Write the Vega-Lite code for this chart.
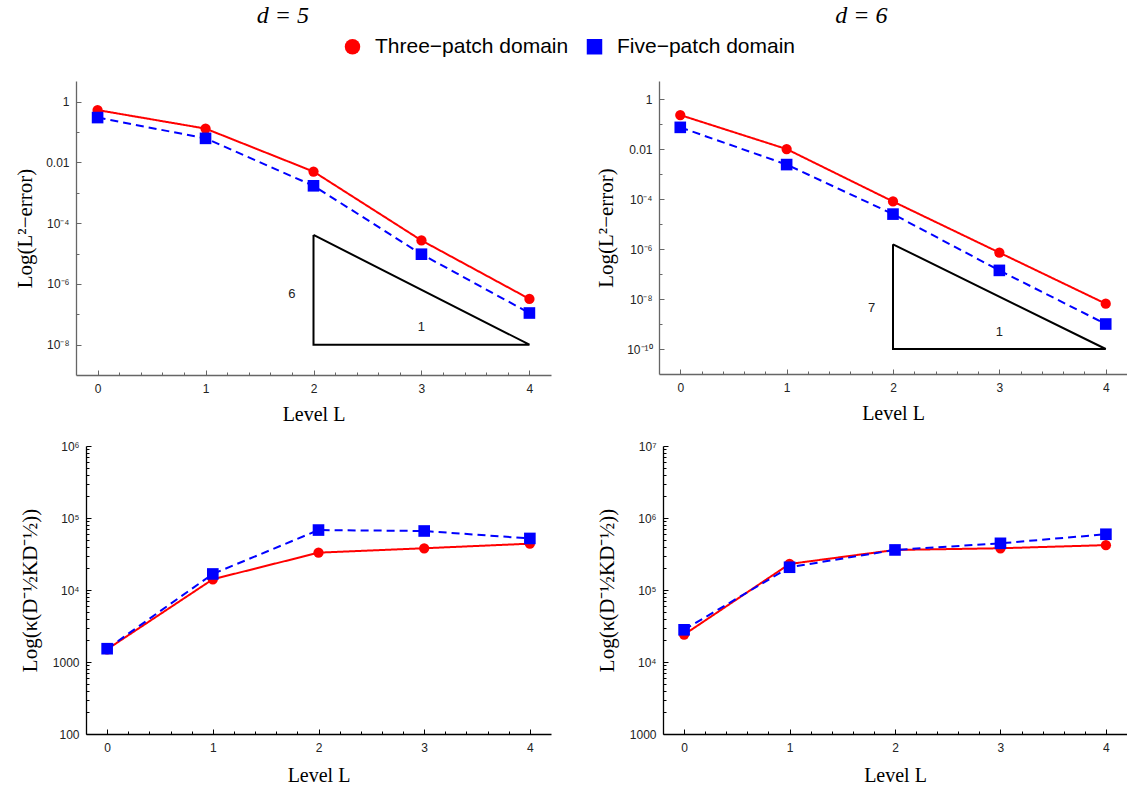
{
  "$schema": "https://vega.github.io/schema/vega-lite/v6.json",
  "background": "white",
  "padding": {"left": 14, "top": 4, "right": 0, "bottom": 4},
  "datasets": {
    "err": [
      {"panel": "A", "domain": "Three−patch domain", "L": 0, "value": 0.53},
      {"panel": "A", "domain": "Three−patch domain", "L": 1, "value": 0.13},
      {"panel": "A", "domain": "Three−patch domain", "L": 2, "value": 0.005},
      {"panel": "A", "domain": "Three−patch domain", "L": 3, "value": 2.7e-5},
      {"panel": "A", "domain": "Three−patch domain", "L": 4, "value": 3.2e-7},
      {"panel": "A", "domain": "Five−patch domain", "L": 0, "value": 0.30},
      {"panel": "A", "domain": "Five−patch domain", "L": 1, "value": 0.062},
      {"panel": "A", "domain": "Five−patch domain", "L": 2, "value": 0.0017},
      {"panel": "A", "domain": "Five−patch domain", "L": 3, "value": 9.5e-6},
      {"panel": "A", "domain": "Five−patch domain", "L": 4, "value": 1.1e-7},
      {"panel": "B", "domain": "Three−patch domain", "L": 0, "value": 0.23},
      {"panel": "B", "domain": "Three−patch domain", "L": 1, "value": 0.010},
      {"panel": "B", "domain": "Three−patch domain", "L": 2, "value": 8e-5},
      {"panel": "B", "domain": "Three−patch domain", "L": 3, "value": 7.2e-7},
      {"panel": "B", "domain": "Three−patch domain", "L": 4, "value": 6.5e-9},
      {"panel": "B", "domain": "Five−patch domain", "L": 0, "value": 0.074},
      {"panel": "B", "domain": "Five−patch domain", "L": 1, "value": 0.0024},
      {"panel": "B", "domain": "Five−patch domain", "L": 2, "value": 2.5e-5},
      {"panel": "B", "domain": "Five−patch domain", "L": 3, "value": 1.4e-7},
      {"panel": "B", "domain": "Five−patch domain", "L": 4, "value": 1.0e-9},
      {"panel": "C", "domain": "Three−patch domain", "L": 0, "value": 1500},
      {"panel": "C", "domain": "Three−patch domain", "L": 1, "value": 14100},
      {"panel": "C", "domain": "Three−patch domain", "L": 2, "value": 33000},
      {"panel": "C", "domain": "Three−patch domain", "L": 3, "value": 38000},
      {"panel": "C", "domain": "Three−patch domain", "L": 4, "value": 44000},
      {"panel": "C", "domain": "Five−patch domain", "L": 0, "value": 1530},
      {"panel": "C", "domain": "Five−patch domain", "L": 1, "value": 16700},
      {"panel": "C", "domain": "Five−patch domain", "L": 2, "value": 68000},
      {"panel": "C", "domain": "Five−patch domain", "L": 3, "value": 66000},
      {"panel": "C", "domain": "Five−patch domain", "L": 4, "value": 52000},
      {"panel": "D", "domain": "Three−patch domain", "L": 0, "value": 24000},
      {"panel": "D", "domain": "Three−patch domain", "L": 1, "value": 230000},
      {"panel": "D", "domain": "Three−patch domain", "L": 2, "value": 360000},
      {"panel": "D", "domain": "Three−patch domain", "L": 3, "value": 380000},
      {"panel": "D", "domain": "Three−patch domain", "L": 4, "value": 420000},
      {"panel": "D", "domain": "Five−patch domain", "L": 0, "value": 28000},
      {"panel": "D", "domain": "Five−patch domain", "L": 1, "value": 207000},
      {"panel": "D", "domain": "Five−patch domain", "L": 2, "value": 360000},
      {"panel": "D", "domain": "Five−patch domain", "L": 3, "value": 445000},
      {"panel": "D", "domain": "Five−patch domain", "L": 4, "value": 595000}
    ],
    "tri": [
      {"panel": "A", "i": 0, "L": 2, "value": 4.1e-5},
      {"panel": "A", "i": 1, "L": 2, "value": 1e-8},
      {"panel": "A", "i": 2, "L": 4, "value": 1e-8},
      {"panel": "A", "i": 3, "L": 2, "value": 4.1e-5},
      {"panel": "B", "i": 0, "L": 2, "value": 1.55e-6},
      {"panel": "B", "i": 1, "L": 2, "value": 1e-10},
      {"panel": "B", "i": 2, "L": 4, "value": 1e-10},
      {"panel": "B", "i": 3, "L": 2, "value": 1.55e-6}
    ],
    "lab": [
      {"panel": "A", "L": 1.8, "value": 4.7e-7, "text": "6"},
      {"panel": "A", "L": 3.0, "value": 3.8e-8, "text": "1"},
      {"panel": "B", "L": 1.8, "value": 4.4e-9, "text": "7"},
      {"panel": "B", "L": 3.0, "value": 4.7e-10, "text": "1"}
    ]
  },
  "config": {
    "view": {"stroke": null},
    "title": {"font": "Liberation Serif", "fontStyle": "italic", "fontWeight": "normal", "fontSize": 24, "color": "#000", "anchor": "middle", "frame": "bounds"},
    "axis": {
      "labelFont": "Liberation Sans", "labelFontSize": 12, "labelColor": "#222",
      "titleFont": "Liberation Serif", "titleFontSize": 20, "titleFontWeight": "normal", "titleColor": "#000",
      "grid": false, "tickSize": -5, "tickWidth": 1, "domainWidth": 1.3
    },
    "legend": {"title": null, "orient": "none", "legendX": 266, "legendY": -45, "direction": "horizontal", "labelFont": "Liberation Sans", "labelFontSize": 21, "labelColor": "#000", "symbolSize": 240, "symbolStrokeWidth": 0, "symbolOpacity": 1, "columnPadding": 15, "labelLimit": 400, "labelOffset": 12}
  },
  "resolve": {"scale": {"color": "shared", "shape": "shared", "strokeDash": "shared", "size": "shared"}},
  "spacing": 16,
  "vconcat": [
    {
      "spacing": 44,
      "resolve": {"scale": {"color": "shared", "shape": "shared", "strokeDash": "shared", "size": "shared"}},
      "hconcat": [
        {
          "width": 475, "height": 294,
          "title": {"text": "d = 5", "offset": 53},
          "resolve": {"axis": {"x": "independent", "y": "independent"}},
          "layer": [
            {
              "data": {"name": "err"}, "transform": [{"filter": "datum.panel === 'A'"}],
              "mark": {"type": "line", "strokeWidth": 2},
              "encoding": {
                "x": {"field": "L", "type": "quantitative", "scale": {"domain": [-0.2, 4.2], "nice": false, "zero": false},
                      "axis": {"title": "Level L", "values": [0, 1, 2, 3, 4], "format": "d", "domainColor": "#666", "tickColor": "#666", "labelPadding": 13, "titlePadding": 10, "labelFlush": false}},
                "y": {"field": "value", "type": "quantitative", "scale": {"type": "log", "domain": [1e-9, 4.8], "nice": false},
                      "axis": {"title": "Log(L²−error)", "titleFontSize": 21, "values": [1, 0.01, 0.0001, 1e-6, 1e-8],
                               "labelExpr": "datum.value > 0.5 ? '1' : datum.value > 0.005 ? '0.01' : datum.value > 5e-5 ? '10⁻⁴' : datum.value > 5e-7 ? '10⁻⁶' : datum.value > 5e-9 ? '10⁻⁸' : '10⁻¹⁰'",
                               "domainColor": "#666", "tickColor": "#666", "labelPadding": 12, "titlePadding": 10}},
                "color": {"field": "domain", "type": "nominal", "scale": {"domain": ["Three−patch domain", "Five−patch domain"], "range": ["#ff0000", "#0000ff"]}},
                "strokeDash": {"field": "domain", "type": "nominal", "scale": {"domain": ["Five−patch domain", "Three−patch domain"], "range": [[8, 5], [1, 0]]}, "legend": null}
              }
            },
            {
              "data": {"name": "err"}, "transform": [{"filter": "datum.panel === 'A'"}],
              "mark": {"type": "point", "filled": true, "opacity": 1},
              "encoding": {
                "x": {"field": "L", "type": "quantitative", "axis": {"orient": "bottom", "values": [0.2, 0.4, 0.6, 0.8, 1.2, 1.4, 1.6, 1.8, 2.2, 2.4, 2.6, 2.8, 3.2, 3.4, 3.6, 3.8], "labels": false, "domain": false, "title": null, "tickSize": -3, "tickColor": "#666"}},
                "y": {"field": "value", "type": "quantitative", "axis": {"orient": "left", "values": [0.1, 0.001, 1e-5, 1e-7], "labels": false, "domain": false, "title": null, "tickSize": -3, "tickColor": "#666"}},
                "color": {"field": "domain", "type": "nominal", "scale": {"domain": ["Three−patch domain", "Five−patch domain"], "range": ["#ff0000", "#0000ff"]}},
                "shape": {"field": "domain", "type": "nominal", "scale": {"domain": ["Three−patch domain", "Five−patch domain"], "range": ["circle", "square"]}},
                "size": {"field": "domain", "type": "nominal", "scale": {"domain": ["Five−patch domain", "Three−patch domain"], "range": [135, 105]}, "legend": null}
              }
            },
            {
              "data": {"name": "tri"}, "transform": [{"filter": "datum.panel === 'A'"}],
              "mark": {"type": "line", "color": "#000", "strokeWidth": 2},
              "encoding": {
                "x": {"field": "L", "type": "quantitative", "axis": null},
                "y": {"field": "value", "type": "quantitative", "axis": null},
                "order": {"field": "i", "type": "quantitative"}
              }
            },
            {
              "data": {"name": "lab"}, "transform": [{"filter": "datum.panel === 'A'"}],
              "mark": {"type": "text", "font": "Liberation Sans", "fontSize": 13, "color": "#222"},
              "encoding": {
                "x": {"field": "L", "type": "quantitative", "axis": null},
                "y": {"field": "value", "type": "quantitative", "axis": null},
                "text": {"field": "text"}
              }
            }
          ]
        },
        {
          "width": 468, "height": 293,
          "title": {"text": "d = 6", "offset": 53},
          "resolve": {"axis": {"x": "independent", "y": "independent"}},
          "layer": [
            {
              "data": {"name": "err"}, "transform": [{"filter": "datum.panel === 'B'"}],
              "mark": {"type": "line", "strokeWidth": 2},
              "encoding": {
                "x": {"field": "L", "type": "quantitative", "scale": {"domain": [-0.2, 4.2], "nice": false, "zero": false},
                      "axis": {"title": "Level L", "values": [0, 1, 2, 3, 4], "format": "d", "domainColor": "#666", "tickColor": "#666", "labelPadding": 13, "titlePadding": 10, "labelFlush": false}},
                "y": {"field": "value", "type": "quantitative", "scale": {"type": "log", "domain": [1e-11, 5.3], "nice": false},
                      "axis": {"title": "Log(L²−error)", "titleFontSize": 21, "values": [1, 0.01, 0.0001, 1e-6, 1e-8, 1e-10],
                               "labelExpr": "datum.value > 0.5 ? '1' : datum.value > 0.005 ? '0.01' : datum.value > 5e-5 ? '10⁻⁴' : datum.value > 5e-7 ? '10⁻⁶' : datum.value > 5e-9 ? '10⁻⁸' : '10⁻¹⁰'",
                               "domainColor": "#666", "tickColor": "#666", "labelPadding": 12, "titlePadding": 10}},
                "color": {"field": "domain", "type": "nominal", "scale": {"domain": ["Three−patch domain", "Five−patch domain"], "range": ["#ff0000", "#0000ff"]}},
                "strokeDash": {"field": "domain", "type": "nominal", "scale": {"domain": ["Five−patch domain", "Three−patch domain"], "range": [[8, 5], [1, 0]]}, "legend": null}
              }
            },
            {
              "data": {"name": "err"}, "transform": [{"filter": "datum.panel === 'B'"}],
              "mark": {"type": "point", "filled": true, "opacity": 1},
              "encoding": {
                "x": {"field": "L", "type": "quantitative", "axis": {"orient": "bottom", "values": [0.2, 0.4, 0.6, 0.8, 1.2, 1.4, 1.6, 1.8, 2.2, 2.4, 2.6, 2.8, 3.2, 3.4, 3.6, 3.8], "labels": false, "domain": false, "title": null, "tickSize": -3, "tickColor": "#666"}},
                "y": {"field": "value", "type": "quantitative", "axis": {"orient": "left", "values": [0.1, 0.001, 1e-5, 1e-7, 1e-9], "labels": false, "domain": false, "title": null, "tickSize": -3, "tickColor": "#666"}},
                "color": {"field": "domain", "type": "nominal", "scale": {"domain": ["Three−patch domain", "Five−patch domain"], "range": ["#ff0000", "#0000ff"]}},
                "shape": {"field": "domain", "type": "nominal", "scale": {"domain": ["Three−patch domain", "Five−patch domain"], "range": ["circle", "square"]}},
                "size": {"field": "domain", "type": "nominal", "scale": {"domain": ["Five−patch domain", "Three−patch domain"], "range": [135, 105]}, "legend": null}
              }
            },
            {
              "data": {"name": "tri"}, "transform": [{"filter": "datum.panel === 'B'"}],
              "mark": {"type": "line", "color": "#000", "strokeWidth": 2},
              "encoding": {
                "x": {"field": "L", "type": "quantitative", "axis": null},
                "y": {"field": "value", "type": "quantitative", "axis": null},
                "order": {"field": "i", "type": "quantitative"}
              }
            },
            {
              "data": {"name": "lab"}, "transform": [{"filter": "datum.panel === 'B'"}],
              "mark": {"type": "text", "font": "Liberation Sans", "fontSize": 13, "color": "#222"},
              "encoding": {
                "x": {"field": "L", "type": "quantitative", "axis": null},
                "y": {"field": "value", "type": "quantitative", "axis": null},
                "text": {"field": "text"}
              }
            }
          ]
        }
      ]
    },
    {
      "spacing": 45,
      "resolve": {"scale": {"color": "shared", "shape": "shared", "strokeDash": "shared", "size": "shared"}},
      "hconcat": [
        {
          "width": 475, "height": 288,
          "resolve": {"axis": {"x": "independent", "y": "independent"}},
          "layer": [
            {
              "data": {"name": "err"}, "transform": [{"filter": "datum.panel === 'C'"}],
              "mark": {"type": "line", "strokeWidth": 2},
              "encoding": {
                "x": {"field": "L", "type": "quantitative", "scale": {"domain": [-0.2, 4.2], "nice": false, "zero": false, "range": [10, 475]},
                      "axis": {"title": "Level L", "values": [0, 1, 2, 3, 4], "format": "d", "domainColor": "#000", "tickColor": "#000", "labelPadding": 13, "titlePadding": 12, "labelFlush": false}},
                "y": {"field": "value", "type": "quantitative", "scale": {"type": "log", "domain": [100, 1000000], "nice": false},
                      "axis": {"title": "Log(κ(D⁻½KD⁻½))", "titleFontSize": 21, "values": [100, 1000, 10000, 100000, 1000000], "offset": -10,
                               "labelExpr": "datum.value < 500 ? '100' : datum.value < 5000 ? '1000' : datum.value < 5e4 ? '10⁴' : datum.value < 5e5 ? '10⁵' : datum.value < 5e6 ? '10⁶' : '10⁷'",
                               "domainColor": "#000", "tickColor": "#000", "labelPadding": 12, "titlePadding": 12}},
                "color": {"field": "domain", "type": "nominal", "scale": {"domain": ["Three−patch domain", "Five−patch domain"], "range": ["#ff0000", "#0000ff"]}},
                "strokeDash": {"field": "domain", "type": "nominal", "scale": {"domain": ["Five−patch domain", "Three−patch domain"], "range": [[8, 5], [1, 0]]}, "legend": null}
              }
            },
            {
              "data": {"name": "err"}, "transform": [{"filter": "datum.panel === 'C'"}],
              "mark": {"type": "point", "filled": true, "opacity": 1},
              "encoding": {
                "x": {"field": "L", "type": "quantitative", "axis": {"orient": "bottom", "values": [0.2, 0.4, 0.6, 0.8, 1.2, 1.4, 1.6, 1.8, 2.2, 2.4, 2.6, 2.8, 3.2, 3.4, 3.6, 3.8], "labels": false, "domain": false, "title": null, "tickSize": -3, "tickColor": "#000"}},
                "y": {"field": "value", "type": "quantitative", "axis": {"orient": "left", "offset": -10, "values": [200, 300, 400, 500, 600, 700, 800, 900, 2000, 3000, 4000, 5000, 6000, 7000, 8000, 9000, 20000, 30000, 40000, 50000, 60000, 70000, 80000, 90000, 200000, 300000, 400000, 500000, 600000, 700000, 800000, 900000], "labels": false, "domain": false, "title": null, "tickSize": -3, "tickColor": "#000"}},
                "color": {"field": "domain", "type": "nominal", "scale": {"domain": ["Three−patch domain", "Five−patch domain"], "range": ["#ff0000", "#0000ff"]}},
                "shape": {"field": "domain", "type": "nominal", "scale": {"domain": ["Three−patch domain", "Five−patch domain"], "range": ["circle", "square"]}},
                "size": {"field": "domain", "type": "nominal", "scale": {"domain": ["Five−patch domain", "Three−patch domain"], "range": [135, 105]}, "legend": null}
              }
            }
          ]
        },
        {
          "width": 464, "height": 288,
          "resolve": {"axis": {"x": "independent", "y": "independent"}},
          "layer": [
            {
              "data": {"name": "err"}, "transform": [{"filter": "datum.panel === 'D'"}],
              "mark": {"type": "line", "strokeWidth": 2},
              "encoding": {
                "x": {"field": "L", "type": "quantitative", "scale": {"domain": [-0.2, 4.2], "nice": false, "zero": false},
                      "axis": {"title": "Level L", "values": [0, 1, 2, 3, 4], "format": "d", "domainColor": "#000", "tickColor": "#000", "labelPadding": 13, "titlePadding": 12, "labelFlush": false}},
                "y": {"field": "value", "type": "quantitative", "scale": {"type": "log", "domain": [1000, 10000000], "nice": false},
                      "axis": {"title": "Log(κ(D⁻½KD⁻½))", "titleFontSize": 21, "values": [1000, 10000, 100000, 1000000, 10000000],
                               "labelExpr": "datum.value < 500 ? '100' : datum.value < 5000 ? '1000' : datum.value < 5e4 ? '10⁴' : datum.value < 5e5 ? '10⁵' : datum.value < 5e6 ? '10⁶' : '10⁷'",
                               "domainColor": "#000", "tickColor": "#000", "labelPadding": 12, "titlePadding": 12}},
                "color": {"field": "domain", "type": "nominal", "scale": {"domain": ["Three−patch domain", "Five−patch domain"], "range": ["#ff0000", "#0000ff"]}},
                "strokeDash": {"field": "domain", "type": "nominal", "scale": {"domain": ["Five−patch domain", "Three−patch domain"], "range": [[8, 5], [1, 0]]}, "legend": null}
              }
            },
            {
              "data": {"name": "err"}, "transform": [{"filter": "datum.panel === 'D'"}],
              "mark": {"type": "point", "filled": true, "opacity": 1},
              "encoding": {
                "x": {"field": "L", "type": "quantitative", "axis": {"orient": "bottom", "values": [0.2, 0.4, 0.6, 0.8, 1.2, 1.4, 1.6, 1.8, 2.2, 2.4, 2.6, 2.8, 3.2, 3.4, 3.6, 3.8], "labels": false, "domain": false, "title": null, "tickSize": -3, "tickColor": "#000"}},
                "y": {"field": "value", "type": "quantitative", "axis": {"orient": "left", "values": [2000, 3000, 4000, 5000, 6000, 7000, 8000, 9000, 20000, 30000, 40000, 50000, 60000, 70000, 80000, 90000, 200000, 300000, 400000, 500000, 600000, 700000, 800000, 900000, 2000000, 3000000, 4000000, 5000000, 6000000, 7000000, 8000000, 9000000], "labels": false, "domain": false, "title": null, "tickSize": -3, "tickColor": "#000"}},
                "color": {"field": "domain", "type": "nominal", "scale": {"domain": ["Three−patch domain", "Five−patch domain"], "range": ["#ff0000", "#0000ff"]}},
                "shape": {"field": "domain", "type": "nominal", "scale": {"domain": ["Three−patch domain", "Five−patch domain"], "range": ["circle", "square"]}},
                "size": {"field": "domain", "type": "nominal", "scale": {"domain": ["Five−patch domain", "Three−patch domain"], "range": [135, 105]}, "legend": null}
              }
            }
          ]
        }
      ]
    }
  ]
}
